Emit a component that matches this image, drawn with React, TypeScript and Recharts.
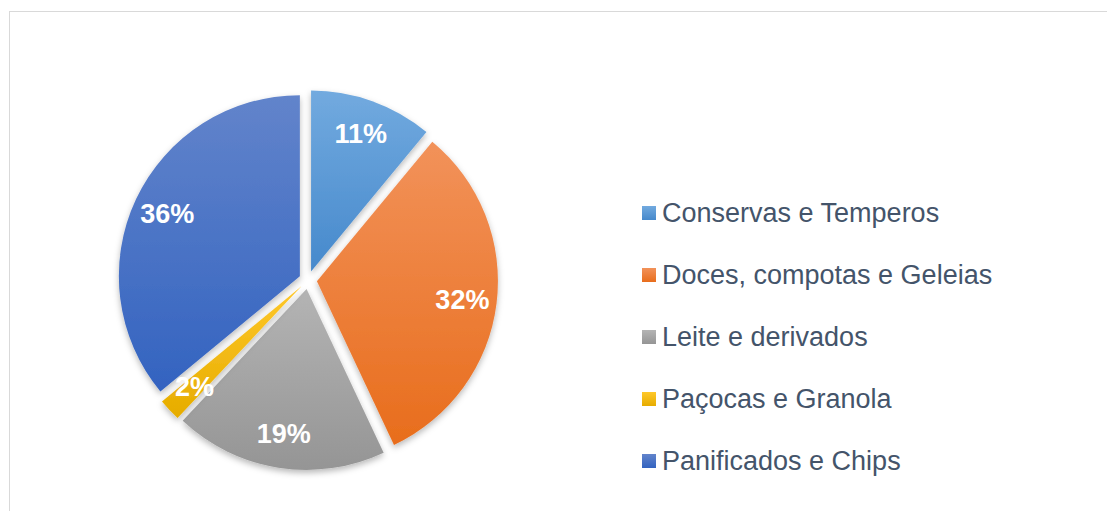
import { PieChart, Pie, Cell, Sector, Legend } from "recharts"

const categories = [
  "Conservas e Temperos",
  "Doces, compotas e Geleias",
  "Leite e derivados",
  "Paçocas e Granola",
  "Panificados e Chips",
]
const shares = [11, 32, 19, 2, 36]

// gradient stops per slice: [top, bottom]
const gradients = [
  ["#72aadf", "#4689cc"],
  ["#f2925a", "#e86d1c"],
  ["#b4b4b4", "#959595"],
  ["#ffc82a", "#e6ac00"],
  ["#6284cb", "#3363c0"],
]

const data = categories.map((name, i) => ({ name, value: shares[i] }))

const RADIAN = Math.PI / 180
const EXPLODE = 9
const FONT = "'Liberation Sans', Arial, sans-serif"

const ExplodedSector = (props: any) => {
  const { cx, cy, midAngle } = props
  const dx = EXPLODE * Math.cos(-midAngle * RADIAN)
  const dy = EXPLODE * Math.sin(-midAngle * RADIAN)
  return (
    <g filter="url(#sliceShadow)">
      <Sector {...props} cx={cx + dx} cy={cy + dy} />
    </g>
  )
}

const renderLabel = (props: any) => {
  const { cx, cy, midAngle, outerRadius, value } = props
  const r = outerRadius * 0.81 + EXPLODE
  const x = cx + r * Math.cos(-midAngle * RADIAN)
  const y = cy + r * Math.sin(-midAngle * RADIAN)
  return (
    <text
      x={x}
      y={y}
      fill="#fff"
      textAnchor="middle"
      dominantBaseline="central"
      fontFamily={FONT}
      fontWeight="bold"
      fontSize={27}
    >
      {`${value}%`}
    </text>
  )
}

const renderLegend = () => (
  <div style={{ fontFamily: FONT }}>
    {categories.map((name, i) => (
      <div key={name} style={{ height: 62, display: "flex", alignItems: "center" }}>
        <span
          style={{
            width: 14,
            height: 14,
            marginRight: 6,
            background: `linear-gradient(${gradients[i][0]}, ${gradients[i][1]})`,
          }}
        />
        <span style={{ fontSize: 27, color: "#44546a", whiteSpace: "nowrap" }}>{name}</span>
      </div>
    ))}
  </div>
)

export default function App() {
  return (
    <div style={{ position: "relative", width: 1107, height: 503, overflow: "hidden" }}>
      <div
        style={{
          position: "absolute",
          left: 1,
          top: 3,
          width: 1300,
          height: 700,
          border: "1px solid #d9d9d9",
          boxSizing: "border-box",
        }}
      />
      <div style={{ position: "absolute", left: 0, top: 0 }}>
        <PieChart width={1107} height={503}>
          <defs>
            {gradients.map((g, i) => (
              <linearGradient key={i} id={`slice${i}`} x1="0" y1="0" x2="0" y2="1">
                <stop offset="0%" stopColor={g[0]} />
                <stop offset="100%" stopColor={g[1]} />
              </linearGradient>
            ))}
            <filter id="sliceShadow" x="-20%" y="-20%" width="140%" height="140%">
              <feDropShadow dx="0" dy="3" stdDeviation="3" floodColor="#000" floodOpacity="0.28" />
            </filter>
          </defs>
          <Pie
            data={data}
            dataKey="value"
            nameKey="name"
            cx={295}
            cy={267}
            outerRadius={181}
            startAngle={90}
            endAngle={-270}
            stroke="none"
            labelLine={false}
            label={renderLabel}
            shape={ExplodedSector}
            isAnimationActive={false}
          >
            {data.map((d, i) => (
              <Cell key={d.name} fill={`url(#slice${i})`} />
            ))}
          </Pie>
          <Legend
            layout="vertical"
            content={renderLegend}
            wrapperStyle={{ left: 634, top: 174, width: 440 }}
          />
        </PieChart>
      </div>
    </div>
  )
}
